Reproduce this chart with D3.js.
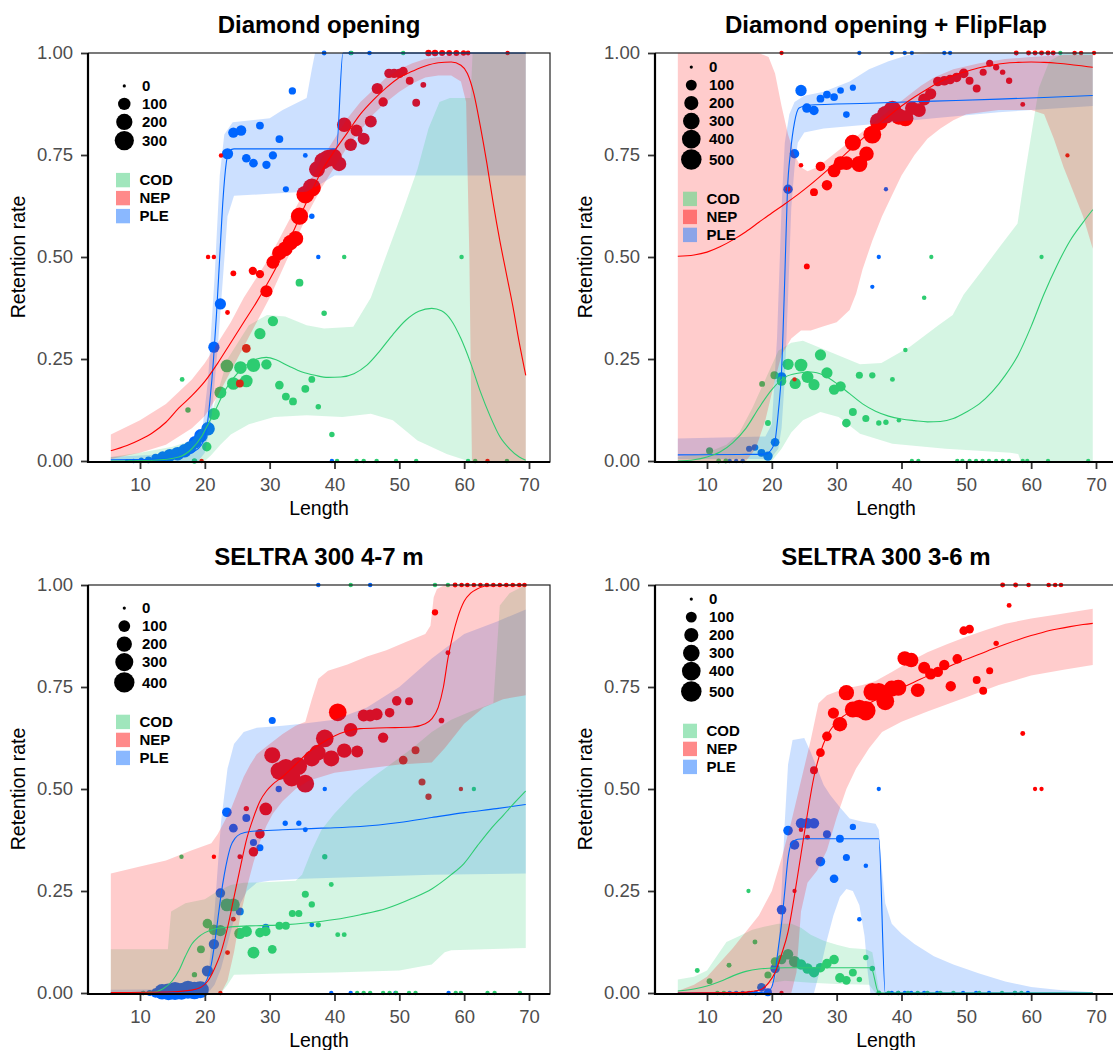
<!DOCTYPE html>
<html>
<head>
<meta charset="utf-8">
<script src="https://cdnjs.cloudflare.com/ajax/libs/d3/7.8.5/d3.min.js"></script>
<style>
	body { margin: 0; background: #fff; }
	svg text { font-family: "Liberation Sans", Arial, sans-serif; }
	.graphtitle { font-size: 24px; font-weight: bold; fill: #000; }
	.axistitle { font-size: 19.5px; fill: #000; }
	.axis .tick text { font-size: 18.5px; fill: #4d4d4d; }
	.axis .tick line { stroke: #333; stroke-width: 1.8px; }
	.axis .domain { display: none; }
	.legtext { font-size: 15px; font-weight: bold; fill: #000; }
</style>
</head>
<body>
<svg class="chart"></svg>
<script>

/* ---------- data ---------- */

var panelTitles = ["Diamond opening", "Diamond opening + FlipFlap", "SELTRA 300 4-7 m", "SELTRA 300 3-6 m"];
var species = ["COD", "NEP", "PLE"];
var xTicks = [10, 20, 30, 40, 50, 60, 70];
var yTicks = [0, 0.25, 0.5, 0.75, 1];

// size legend breaks (number of fish)
var diaBreaks = [0, 100, 200, 300];
var ffBreaks = [0, 100, 200, 300, 400, 500];
var s47Breaks = [0, 100, 200, 300, 400];
var s36Breaks = [0, 100, 200, 300, 400, 500];

// points: [length, retention, n]
// ---- Diamond opening
var diaPlePts = [[8,0,1],[9,0,2],[10.2,0.002,5],[11.3,0.003,15],[12.4,0.007,35],[13.5,0.01,75],[14.6,0.014,105],[15.8,0.018,125],[16.9,0.025,125],[17.7,0.033,105],[18.5,0.046,105],[19.4,0.062,125],[20.5,0.079,125],[21.4,0.279,75],[22.4,0.385,75],[23.5,0.753,75],[24.4,0.805,60],[25.6,0.81,60],[26.4,0.742,35],[27.5,0.73,35],[28.5,0.822,25],[29.5,0.726,30],[30.5,0.749,30],[31.5,0.789,25],[32.5,0.666,10],[33.5,0.907,20],[35.5,0.749,3],[36.5,0.6,6],[37.5,0.5,2],[38.4,1,3],[39.6,0,2],[42.5,1,2],[45.4,1,2]];
var diaNepPts = [[19.5,0,2],[20.5,0.5,2],[21.4,0.5,2],[22.5,0.749,2],[23.5,0.364,3],[24.4,0.46,8],[25.4,0.19,25],[26.4,0.276,35],[27.4,0.466,30],[28.5,0.458,30],[29.5,0.416,95],[30.5,0.487,110],[31.5,0.51,150],[32.4,0.52,160],[33.2,0.535,170],[34,0.545,170],[34.6,0.6,230],[35.5,0.653,250],[36.5,0.67,260],[37.3,0.715,190],[38.2,0.735,220],[39,0.742,230],[39.8,0.745,230],[40.7,0.728,150],[41.5,0.824,150],[42.5,0.775,100],[43.4,0.81,90],[44.5,0.79,90],[45.6,0.832,90],[46.6,0.913,75],[47.5,0.88,45],[48.4,0.95,45],[49.2,0.95,45],[50,0.95,45],[50.6,0.955,40],[51.6,0.932,25],[52.6,0.878,25],[53.7,0.922,8],[54.5,1,12],[55.5,1,12],[56.6,1,10],[57.7,1,8],[58.8,1,8],[59.9,1,5],[60.6,1,3],[63.6,0,2],[66.7,1,2]];
var diaCodPts = [[8.5,0,1],[9.5,0,1],[10.8,0,1],[16.5,0.2,3],[17.4,0.125,6],[18.4,0,6],[20.3,0.035,45],[21.4,0.115,90],[22.4,0.168,90],[23.4,0.233,105],[24.4,0.19,105],[25.5,0.229,105],[26.4,0.196,105],[27.5,0.235,125],[28.5,0.312,75],[29.5,0.237,60],[30.5,0.343,60],[31.5,0.186,35],[32.5,0.158,25],[33.6,0.146,25],[34.6,0.437,25],[35.5,0.177,25],[36.5,0.2,15],[37.5,0.133,6],[38.4,0.362,6],[39.6,0.065,6],[40.4,0,2],[41.5,0.5,2],[42.6,1,2],[43.4,0,2],[44.5,0,2],[46.5,0,2],[49.5,0,2],[50.6,1,2],[52.6,0,2],[59.6,0.5,2],[60.6,0,2],[61.7,0,2],[66.6,0,2]];

// ---- Diamond opening + FlipFlap
var ffPlePts = [[13.5,0,2],[14.5,0,2],[15.5,0,3],[16.5,0.03,15],[17.4,0.033,20],[18.4,0.02,35],[19.4,0.012,65],[20.5,0.046,50],[21.5,0.206,65],[22.5,0.666,65],[23.5,0.753,65],[24.5,0.908,110],[25.4,0.865,65],[26.5,0.859,65],[27.5,0.888,35],[28.5,0.898,35],[29.6,0.892,35],[30.6,0.908,20],[31.5,0.849,20],[32.5,0.915,15],[33.5,1,2],[35.5,0.427,2],[36.5,0.5,2],[37.6,0.666,2],[38.5,1,2],[40.5,1,2],[41.6,1,2],[46.6,1,2],[47.5,1,2]];
var ffNepPts = [[21.5,1,2],[22.5,0.666,5],[23.5,0.2,2],[24.5,0.725,3],[25.4,0.477,12],[26.5,0.659,37],[27.5,0.722,68],[28.5,0.676,86],[29.6,0.711,155],[30.6,0.73,183],[31.5,0.73,183],[32.5,0.78,278],[33.5,0.728,278],[34.6,0.753,213],[35.5,0.8,354],[36.5,0.832,354],[37.6,0.849,354],[38.6,0.861,354],[39.6,0.844,278],[40.6,0.84,278],[41.6,0.865,183],[42.7,0.86,183],[43.5,0.886,130],[44.5,0.9,107],[45.6,0.93,68],[46.6,0.932,68],[47.5,0.935,68],[48.5,0.94,68],[49.6,0.95,68],[50.5,0.932,37],[51.6,0.913,37],[52.6,0.953,25],[53.6,0.975,25],[54.6,0.965,16],[55.6,0.953,8],[56.6,0.932,16],[57.7,1,5],[58.7,0.874,5],[59.6,1,5],[60.6,1,5],[61.6,1,5],[62.6,1,5],[63.4,1,5],[65.6,0.749,2],[66.7,1,3],[67.7,1,3],[69.7,1,2]];
var ffCodPts = [[10.4,0.025,25],[11.8,0,5],[12.9,0,5],[18.5,0.189,12],[19.4,0.093,12],[20.4,0.21,37],[21.5,0.196,68],[22.5,0.237,107],[23.6,0.19,107],[24.5,0.235,155],[25.5,0.206,130],[26.5,0.187,107],[27.5,0.26,107],[28.5,0.216,107],[29.6,0.175,86],[30.6,0.183,86],[31.5,0.093,50],[32.5,0.12,37],[33.5,0.21,25],[34.5,0.104,25],[35.5,0.21,16],[36.5,0.093,8],[37.6,0.095,8],[38.6,0.2,5],[39.6,0.1,3],[40.6,0.272,3],[41.6,0,2],[42.6,0,2],[43.5,0.4,3],[44.6,0.5,2],[48.6,0,2],[49.4,0,2],[50.5,0,2],[51.5,0,2],[52.5,0,2],[53.5,0,2],[54.6,0,2],[55.6,0,2],[56.6,0,2],[58.7,0,2],[59.4,0,2],[61.6,0.5,2],[62.6,0,2],[64.5,1,2],[68.8,0,2]];

// ---- SELTRA 300 4-7 m
var s47PlePts = [[10.5,0,2],[11.5,0,10],[12.4,0,50],[13.4,0.003,200],[14.4,0.003,250],[15.4,0.005,300],[16.4,0.004,250],[17.4,0.008,300],[18.4,0.006,280],[19.3,0.008,260],[20.4,0.054,86],[21.4,0.12,69],[22.4,0.245,55],[23.4,0.443,55],[24.4,0.404,42],[25.4,0.2,30],[26.4,0.429,30],[27.5,0.369,20],[28.5,0.356,20],[29.4,0.161,20],[30.4,0.668,20],[31.4,0.5,13],[32.4,0.416,6],[34.5,0.416,6],[35.5,0.4,4],[36.5,0.167,4],[37.5,1,2],[38.5,0.5,2],[39.5,0,2],[42.5,0,2],[45.5,1,2],[49.4,0,2],[57.6,0,2]];
var s47NepPts = [[21.4,0.334,2],[22.4,0,2],[23.5,0.099,4],[24.4,0.181,4],[25.4,0.334,4],[26.4,0.452,6],[27.5,0.346,55],[28.5,0.39,55],[29.4,0.451,124],[30.4,0.583,223],[31.5,0.544,284],[32.5,0.552,284],[33.4,0.528,284],[34.4,0.556,284],[35.5,0.513,284],[36.5,0.575,223],[37.4,0.589,223],[38.5,0.624,284],[39.5,0.575,223],[40.5,0.688,284],[41.5,0.594,171],[42.5,0.645,147],[43.5,0.592,104],[44.5,0.68,104],[45.5,0.68,104],[46.5,0.683,104],[47.5,0.626,69],[48.5,0.687,55],[49.6,0.716,55],[50.6,0.571,42],[51.5,0.715,30],[52.5,0.595,30],[53.5,0.517,20],[54.5,0.481,13],[55.5,0.933,13],[56.5,0.668,8],[57.5,0.834,4],[58.6,1,4],[59.5,0.5,2],[59.6,1,3],[60.5,1,3],[61.5,1,3],[62.5,1,3],[63.5,1,3],[64.5,1,3],[65.5,1,3],[66.5,1,3],[67.5,1,3],[68.5,1,3],[69.3,1,3]];
var s47CodPts = [[10.5,0,2],[11.5,0,2],[16.4,0.334,2],[18.4,0.045,6],[19.4,0.107,30],[20.4,0.17,55],[21.4,0.155,69],[22.4,0.153,86],[23.4,0.216,124],[24.4,0.216,124],[25.4,0.146,86],[26.4,0.151,86],[27.5,0.099,104],[28.5,0.148,55],[29.4,0.151,55],[30.4,0.107,42],[31.5,0.165,30],[32.5,0.165,30],[33.5,0.195,20],[34.5,0.195,20],[35.5,0.242,20],[36.5,0.217,13],[37.5,0.167,6],[38.5,0.334,6],[39.5,0.266,4],[40.5,0.143,4],[41.5,0.143,4],[42.5,1,2],[43.5,0,2],[44.5,0,2],[45.5,0,2],[47.5,0,2],[48.5,0,2],[49.5,0,2],[51.5,0,2],[52.5,0,2],[55.5,1,2],[57.5,1,2],[58.7,0,2],[59.5,0,2],[61.5,0.5,2],[63.6,0,2],[64.7,0,2],[68.6,0,2]];

// ---- SELTRA 300 3-6 m
var s36PlePts = [[13.5,0,3],[14.5,0,3],[15.5,0,3],[16.5,0,3],[17.5,0,5],[18.4,0.014,50],[19.4,0.002,37],[20.5,0.06,68],[21.5,0.204,68],[22.5,0.398,68],[23.5,0.363,68],[24.5,0.416,86],[25.5,0.416,86],[26.5,0.416,86],[27.5,0.322,68],[28.5,0.389,37],[29.6,0.28,50],[30.5,0.378,37],[31.5,0.332,25],[32.5,0.407,16],[33.5,0.181,3],[34.5,0.312,3],[36.5,0.5,2],[38.5,0,2],[39.5,0,2],[40.5,0,2],[41.5,0,2],[43.5,0,2],[45.5,0,2],[49.5,0,2],[51.5,0,2],[53.5,0,2],[57.5,0,2],[59.5,0,2]];
var s36NepPts = [[21.5,0,2],[23.5,0.25,2],[24.5,0.4,3],[25.5,0.382,5],[26.5,0.546,37],[27.5,0.589,50],[28.5,0.629,68],[29.5,0.686,107],[30.5,0.659,213],[31.5,0.736,245],[32.5,0.695,278],[33.5,0.697,354],[34.5,0.692,440],[35.5,0.738,354],[36.5,0.738,354],[37.5,0.715,354],[38.5,0.746,278],[39.5,0.748,278],[40.5,0.82,213],[41.5,0.816,213],[42.5,0.742,183],[43.5,0.797,130],[44.5,0.782,107],[45.6,0.787,86],[46.6,0.804,86],[47.6,0.752,86],[48.6,0.819,68],[49.6,0.888,50],[50.5,0.892,50],[51.6,0.767,37],[52.6,0.741,37],[53.6,0.79,25],[54.6,0.857,8],[55.6,1,5],[56.6,0.95,5],[57.6,1,5],[58.7,0.636,5],[59.6,1,3],[60.6,0.5,2],[61.6,0.5,2],[62.7,1,3],[63.7,1,3],[64.6,1,3]];
var s36CodPts = [[8.5,0.055,5],[10.4,0.029,12],[11.6,0,3],[12.6,0,3],[13.4,0.068,5],[16.4,0.25,2],[17.4,0.125,5],[19.4,0.044,25],[20.5,0.077,50],[21.5,0.082,68],[22.5,0.095,86],[23.5,0.077,107],[24.5,0.07,86],[25.5,0.06,86],[26.5,0.051,86],[27.5,0.062,68],[28.5,0.072,68],[29.6,0.082,68],[30.5,0.037,68],[31.5,0.031,50],[32.5,0.05,37],[33.5,0.033,8],[34.5,0.087,8],[35.5,0.06,8],[36.5,0,5],[38,0,3],[39.5,0,3],[41,0,3],[42.5,0,3],[44,0,3],[46,0,3],[48,0,3],[52,0,2],[55.5,0,2],[57.5,0,2],[58.5,0,2]];

// fitted curves: [length, retention]
var diaPleFit = [[5.5,0.003],[12,0.004],[16,0.008],[18,0.02],[19.5,0.04],[20.3,0.08],[20.8,0.15],[21.3,0.24],[21.8,0.36],[22.3,0.5],[22.8,0.64],[23.3,0.73],[23.8,0.76],[24.5,0.765],[40.3,0.765],[41.3,1],[69.5,1]];
var diaNepFit = [[5.5,0.025],[8,0.038],[10,0.052],[12,0.07],[14,0.095],[16,0.13],[18,0.16],[20,0.195],[22,0.24],[24,0.29],[26,0.34],[28,0.39],[30,0.445],[32,0.505],[34,0.575],[36,0.645],[38,0.71],[40,0.76],[42,0.805],[44,0.85],[46,0.885],[48,0.915],[50,0.94],[52,0.955],[54,0.968],[56,0.976],[58,0.978],[59.5,0.97],[60.5,0.95],[61.5,0.9],[62.5,0.82],[63.5,0.73],[64.5,0.63],[65.5,0.54],[66.5,0.46],[67.5,0.38],[68.5,0.29],[69.5,0.21]];
var diaCodFit = [[5.5,0],[12,0.002],[16,0.01],[18,0.03],[19.5,0.06],[20.5,0.09],[21.5,0.12],[23,0.17],[24.5,0.205],[26,0.23],[28,0.25],[29.5,0.254],[31,0.248],[33,0.232],[35,0.218],[37,0.21],[39,0.205],[41,0.206],[43,0.214],[45,0.235],[47,0.27],[49,0.31],[51,0.345],[53,0.367],[55,0.374],[56.5,0.368],[58,0.345],[59.5,0.3],[61,0.24],[62.5,0.17],[64,0.11],[65.5,0.06],[67,0.03],[68.5,0.01],[69.5,0.002]];

var ffPleFit = [[5.5,0.015],[15,0.016],[19,0.017],[20,0.03],[20.5,0.05],[21,0.12],[21.5,0.22],[22,0.45],[22.4,0.66],[22.9,0.76],[23.5,0.83],[24.2,0.865],[25.5,0.872],[35,0.877],[45,0.882],[55,0.887],[62,0.891],[69.5,0.896]];
var ffNepFit = [[5.5,0.502],[8,0.505],[10,0.512],[12,0.525],[14,0.542],[16,0.562],[18,0.585],[20,0.608],[22,0.63],[24,0.653],[26,0.678],[28,0.705],[30,0.733],[32,0.762],[34,0.79],[36,0.82],[38,0.845],[40,0.87],[42,0.892],[44,0.912],[46,0.93],[48,0.945],[50,0.955],[52,0.964],[54,0.97],[56,0.975],[58,0.977],[60,0.978],[62,0.977],[64,0.975],[66,0.972],[68,0.968],[69.5,0.965]];
var ffCodFit = [[5.5,0],[8,0.003],[10,0.01],[12,0.022],[14,0.045],[16,0.08],[18,0.13],[20,0.175],[22,0.205],[24,0.215],[26,0.218],[28,0.21],[30,0.19],[32,0.165],[34,0.14],[36,0.122],[38,0.11],[40,0.103],[42,0.099],[44,0.096],[46,0.097],[48,0.104],[50,0.12],[52,0.14],[54,0.17],[56,0.21],[58,0.26],[60,0.33],[62,0.41],[64,0.48],[66,0.54],[68,0.585],[69.5,0.616]];

var s47PleFit = [[5.5,0.001],[15,0.002],[18,0.005],[19.5,0.015],[20.5,0.04],[21,0.07],[21.5,0.12],[22,0.18],[22.5,0.24],[23,0.29],[23.5,0.33],[24,0.36],[24.7,0.38],[25.5,0.39],[27,0.396],[32,0.4],[38,0.404],[44,0.408],[50,0.418],[55,0.43],[60,0.442],[65,0.452],[69.5,0.462]];
var s47NepFit = [[5.5,0.001],[15,0.003],[18,0.007],[19.5,0.015],[20.5,0.03],[21.5,0.06],[22.5,0.1],[23.5,0.16],[24.5,0.235],[25.5,0.31],[26.5,0.38],[27.5,0.43],[28.5,0.47],[29.5,0.495],[30.5,0.512],[32,0.53],[34,0.56],[36,0.59],[38,0.612],[40,0.63],[42,0.642],[44,0.648],[48,0.65],[52,0.652],[54,0.66],[55,0.672],[56,0.7],[56.8,0.75],[57.5,0.82],[58.3,0.88],[59,0.92],[60,0.96],[61,0.98],[62,0.99],[63.5,0.998],[69.5,1]];
var s47CodFit = [[5.5,0],[12,0.002],[13.5,0.01],[15,0.03],[16,0.055],[17,0.09],[18,0.12],[19,0.137],[20,0.148],[21.5,0.157],[24,0.162],[28,0.165],[32,0.167],[36,0.172],[40,0.18],[44,0.192],[48,0.207],[52,0.232],[55,0.255],[58,0.29],[60,0.318],[62,0.36],[64,0.4],[66,0.435],[68,0.47],[69.5,0.495]];

var s36PleFit = [[5.5,0],[18,0.001],[19.5,0.005],[20,0.015],[20.5,0.05],[21,0.11],[21.5,0.17],[22,0.25],[22.5,0.33],[23,0.365],[24,0.377],[25,0.378],[36.5,0.378],[37.5,0],[69.5,0]];
var s36NepFit = [[5.5,0],[15,0.001],[17,0.004],[18.5,0.01],[19.5,0.025],[20.5,0.05],[21.5,0.095],[22.5,0.15],[23.5,0.24],[24.5,0.34],[25.5,0.44],[26.5,0.53],[27.5,0.59],[28.5,0.63],[29.5,0.655],[30.5,0.672],[32,0.688],[34,0.703],[36,0.718],[38,0.733],[40,0.748],[42,0.762],[44,0.777],[46,0.79],[48,0.805],[50,0.818],[52,0.83],[54,0.843],[56,0.855],[58,0.866],[60,0.876],[62,0.885],[64,0.892],[66,0.898],[68,0.903],[69.5,0.906]];
var s36CodFit = [[5.5,0.005],[8,0.01],[10,0.017],[12,0.028],[14,0.042],[16,0.053],[18,0.059],[20,0.061],[22,0.062],[26,0.062],[30,0.062],[35.3,0.062],[36.5,0],[69.5,0]];

// confidence bands: lower and upper edges, [length, retention]
var diaPleLo = [[5.5,0],[19,0],[20,0.02],[21,0.1],[22,0.28],[22.8,0.45],[23.5,0.6],[24.5,0.65],[30,0.655],[35.7,0.66],[38,0.68],[40,0.7],[69.5,0.7]];
var diaPleHi = [[5.5,0.01],[18,0.02],[19.5,0.06],[20.5,0.2],[21.5,0.45],[22.3,0.7],[23,0.8],[24.3,0.83],[30,0.84],[32,0.86],[35.7,0.89],[36.5,0.96],[37,1],[69.5,1]];
var diaNepLo = [[5.5,0.005],[10,0.02],[14,0.04],[18,0.08],[20,0.11],[22,0.16],[24,0.22],[26,0.28],[28,0.34],[30,0.4],[32,0.47],[34,0.54],[36,0.61],[38,0.67],[40,0.72],[42,0.77],[44,0.81],[46,0.85],[48,0.88],[50,0.905],[52,0.925],[54,0.94],[56,0.945],[58,0.945],[59.5,0.93],[60.3,0.88],[60.8,0.5],[61.2,0],[69.5,0]];
var diaNepHi = [[5.5,0.065],[10,0.1],[14,0.14],[18,0.2],[20,0.24],[22,0.29],[24,0.34],[26,0.4],[28,0.45],[30,0.5],[32,0.56],[34,0.62],[36,0.68],[38,0.74],[40,0.79],[42,0.84],[44,0.88],[46,0.91],[48,0.94],[50,0.96],[52,0.975],[54,0.985],[56,0.99],[58,0.995],[60,1],[69.5,1]];
var diaCodLo = [[5.5,0],[20,0],[21,0.015],[22.4,0.04],[24,0.065],[26.8,0.09],[30.7,0.108],[35.7,0.112],[41.2,0.108],[45.6,0.116],[49,0.1],[52.8,0.05],[57.3,0.017],[60.6,0],[69.5,0]];
var diaCodHi = [[5.5,0.01],[10,0.02],[15,0.035],[18,0.05],[19.5,0.08],[21.3,0.13],[23.5,0.25],[26.8,0.333],[29.6,0.358],[32.4,0.354],[35.7,0.333],[38.4,0.325],[42.9,0.329],[45.6,0.4],[47.9,0.5],[50.6,0.616],[52.8,0.715],[54.5,0.815],[56.2,0.88],[57.8,0.89],[61,0.89],[61.3,1],[69.5,1]];

var ffPleLo = [[5.5,0.005],[19,0.005],[20,0.01],[21,0.03],[21.5,0.08],[22,0.2],[22.5,0.4],[23,0.62],[23.5,0.72],[24,0.78],[25,0.805],[28,0.815],[35,0.825],[45,0.84],[55,0.855],[69.5,0.87]];
var ffPleHi = [[5.5,0.055],[19,0.06],[20,0.09],[20.8,0.3],[21.5,0.62],[22,0.78],[22.7,0.85],[23.5,0.88],[25,0.895],[28,0.905],[32,0.93],[35,0.96],[38,0.98],[41,0.995],[45,1],[69.5,1]];
var ffNepLo = [[5.5,0],[16,0],[17.5,0.03],[19,0.1],[20.5,0.2],[21.5,0.26],[23,0.3],[24.5,0.32],[26,0.32],[28,0.33],[30,0.34],[32,0.37],[33,0.41],[34,0.47],[35.5,0.54],[37,0.6],[38.5,0.65],[40,0.7],[42,0.75],[44,0.79],[46,0.815],[48,0.835],[50,0.85],[55,0.86],[60,0.86],[62,0.85],[63.5,0.79],[65,0.72],[66.5,0.66],[68,0.6],[69.5,0.52]];
var ffNepHi = [[5.5,1],[18,1],[19.5,0.99],[20.5,0.95],[21.5,0.87],[22.5,0.8],[23.5,0.75],[24.5,0.72],[25.5,0.71],[27,0.72],[29,0.745],[31,0.77],[33,0.795],[35,0.82],[37,0.845],[39,0.87],[41,0.895],[43,0.92],[45,0.94],[48,0.96],[52,0.975],[56,0.985],[60,0.99],[65,0.995],[69.5,0.995]];
var ffCodLo = [[5.5,0],[20,0],[21.5,0.03],[23,0.07],[24.8,0.1],[27.5,0.12],[30.3,0.108],[33.6,0.067],[38.6,0.042],[46.8,0.03],[56.8,0.02],[58,0.017],[58.4,0],[69.5,0]];
var ffCodHi = [[5.5,0.01],[10,0.02],[13,0.04],[15,0.07],[17,0.13],[19,0.2],[21,0.27],[23,0.29],[24.8,0.295],[29.2,0.266],[33.6,0.237],[36.9,0.24],[41.3,0.28],[45.7,0.333],[47.9,0.358],[49.6,0.408],[52.4,0.466],[55.1,0.524],[57.9,0.582],[59,0.7],[61.2,0.915],[62.8,0.98],[64.5,0.995],[65.5,1],[69.5,1]];

var s47PleLo = [[5.5,0],[20.5,0],[21.5,0.02],[22.5,0.06],[23.5,0.12],[24.5,0.18],[25.5,0.22],[26.5,0.25],[28,0.27],[30,0.275],[35,0.28],[45,0.285],[55,0.29],[69.5,0.293]];
var s47PleHi = [[5.5,0.008],[19.5,0.01],[20.5,0.04],[21.5,0.2],[22.5,0.42],[23.5,0.55],[24.5,0.61],[26,0.64],[28,0.65],[32,0.655],[35,0.66],[40,0.67],[45,0.7],[50,0.75],[55,0.82],[60,0.88],[65,0.91],[69.5,0.94]];
var s47NepLo = [[5.5,0],[22.5,0],[23.5,0.03],[24.5,0.1],[25.5,0.19],[26.5,0.26],[27.5,0.32],[28.5,0.37],[29.5,0.41],[30.5,0.44],[32,0.47],[34,0.5],[36,0.52],[40,0.54],[45,0.55],[50,0.56],[55,0.565],[57,0.6],[60,0.66],[63,0.7],[66,0.72],[69.5,0.73]];
var s47NepHi = [[5.5,0.293],[10,0.31],[14,0.325],[18,0.35],[21,0.367],[22,0.39],[23,0.42],[24,0.45],[25,0.49],[26,0.53],[27,0.56],[28,0.585],[30,0.61],[32,0.635],[34,0.655],[35.5,0.665],[36.5,0.72],[37.5,0.77],[39,0.79],[42,0.805],[45,0.825],[48,0.84],[51,0.86],[54,0.88],[54.8,0.9],[55.3,0.97],[55.8,0.99],[57,1],[69.5,1]];
var s47CodLo = [[5.5,0],[22.5,0],[23.5,0.02],[24.5,0.045],[30,0.047],[40,0.05],[50,0.055],[55,0.07],[57,0.1],[58,0.105],[69.5,0.11]];
var s47CodHi = [[5.5,0.107],[14.3,0.107],[14.8,0.2],[17,0.22],[20,0.23],[22,0.25],[24,0.265],[26,0.27],[30,0.272],[34,0.275],[35,0.29],[36.5,0.35],[38,0.4],[40,0.44],[43,0.49],[46,0.53],[49,0.565],[52,0.6],[55,0.64],[58,0.67],[61,0.69],[64.5,0.71],[65.5,0.95],[67,0.98],[69.5,1]];

var s36PleLo = [[5.5,0],[26.5,0],[27.5,0.06],[28.5,0.13],[29.5,0.19],[30.5,0.235],[31.5,0.255],[32.5,0.25],[33.5,0.215],[34.3,0.14],[34.8,0.05],[35.2,0],[69.5,0]];
var s36PleHi = [[5.5,0.002],[19,0.004],[20,0.01],[20.8,0.05],[21.5,0.25],[22,0.42],[22.5,0.56],[23.2,0.62],[25,0.625],[26,0.59],[27,0.55],[28,0.51],[29,0.485],[30.5,0.455],[32,0.428],[34,0.42],[36,0.415],[36.5,0.4],[37,0.3],[37.5,0.22],[38.5,0.17],[40,0.145],[42,0.12],[45,0.09],[48,0.07],[52,0.048],[56,0.028],[60,0.015],[64,0.008],[69.5,0.002]];
var s36NepLo = [[5.5,0],[23,0],[23.8,0.05],[24.5,0.2],[25.5,0.27],[27,0.3],[28.5,0.35],[30,0.43],[31.5,0.5],[33,0.55],[35,0.6],[37,0.64],[40,0.665],[44,0.69],[50,0.725],[55,0.755],[60,0.778],[65,0.792],[69.5,0.804]];
var s36NepHi = [[5.5,0.005],[8,0.02],[10,0.04],[12,0.075],[14,0.11],[16,0.15],[18,0.19],[20,0.25],[21.5,0.33],[23,0.42],[24.5,0.52],[26,0.62],[27.2,0.71],[28.5,0.73],[31,0.745],[34,0.755],[36,0.765],[38.5,0.787],[41,0.81],[44,0.835],[47,0.855],[50,0.873],[53,0.89],[56,0.905],[60,0.918],[64,0.928],[69.5,0.942]];
var s36CodLo = [[5.5,0],[15,0],[18,0.01],[20,0.025],[22,0.03],[26,0.025],[30,0.022],[35,0.02],[36,0],[69.5,0]];
var s36CodHi = [[5.5,0.033],[8,0.04],[10,0.055],[11.5,0.09],[13,0.125],[15,0.14],[17,0.155],[19,0.163],[21,0.17],[23,0.17],[24.5,0.16],[26,0.143],[28,0.128],[30,0.118],[32,0.11],[34.5,0.107],[35.5,0.1],[36.5,0.01],[37,0],[69.5,0]];


/* ---------- panel table built from the arrays ---------- */
var panels = [
	{title: panelTitles[0], breaks: diaBreaks, nmax: 380,
	 pts: {COD: diaCodPts, NEP: diaNepPts, PLE: diaPlePts},
	 fit: {COD: diaCodFit, NEP: diaNepFit, PLE: diaPleFit},
	 lo: {COD: diaCodLo, NEP: diaNepLo, PLE: diaPleLo},
	 hi: {COD: diaCodHi, NEP: diaNepHi, PLE: diaPleHi}},
	{title: panelTitles[1], breaks: ffBreaks, nmax: 540,
	 pts: {COD: ffCodPts, NEP: ffNepPts, PLE: ffPlePts},
	 fit: {COD: ffCodFit, NEP: ffNepFit, PLE: ffPleFit},
	 lo: {COD: ffCodLo, NEP: ffNepLo, PLE: ffPleLo},
	 hi: {COD: ffCodHi, NEP: ffNepHi, PLE: ffPleHi}},
	{title: panelTitles[2], breaks: s47Breaks, nmax: 440,
	 pts: {COD: s47CodPts, NEP: s47NepPts, PLE: s47PlePts},
	 fit: {COD: s47CodFit, NEP: s47NepFit, PLE: s47PleFit},
	 lo: {COD: s47CodLo, NEP: s47NepLo, PLE: s47PleLo},
	 hi: {COD: s47CodHi, NEP: s47NepHi, PLE: s47PleHi}},
	{title: panelTitles[3], breaks: s36Breaks, nmax: 540,
	 pts: {COD: s36CodPts, NEP: s36NepPts, PLE: s36PlePts},
	 fit: {COD: s36CodFit, NEP: s36NepFit, PLE: s36PleFit},
	 lo: {COD: s36CodLo, NEP: s36NepLo, PLE: s36PleLo},
	 hi: {COD: s36CodHi, NEP: s36NepHi, PLE: s36PleHi}}
];


/* ---------- layout and style ---------- */
var totalWidth = 1113, totalHeight = 1050;
var plotW = 462, plotH = 408;
var origins = [[88, 53], [655, 53], [88, 585], [655, 585]];
var colors = {COD: "#2ecc71", NEP: "#ff0000", PLE: "#0066ff"};
var keyFills = [
	{COD: "#a0e6bc", NEP: "#ff8a8a", PLE: "#8ab8ff"},
	{COD: "#9dd4a3", NEP: "#ff7272", PLE: "#8ca4e8"},
	{COD: "#a0e6bc", NEP: "#ff8a8a", PLE: "#8ab8ff"},
	{COD: "#a0e6bc", NEP: "#ff8a8a", PLE: "#8ab8ff"}
];
var drawOrder = ["PLE", "COD", "NEP"];

var svg = d3.select(".chart")
	.attr("width", totalWidth)
	.attr("height", totalHeight);

svg.append("rect")
	.attr("width", totalWidth)
	.attr("height", totalHeight)
	.attr("fill", "#fff");

panels.forEach(function(p, i) {
	drawPanel(p, origins[i], keyFills[i]);
});


// Draw one facet
function drawPanel(p, org, keys) {

	var chart = svg.append("g")
		.attr("transform", "translate(" + org[0] + "," + org[1] + ")");

	var x = d3.scaleLinear()
		.domain([1.98, 73.24])
		.range([0, plotW]);

	var y = d3.scaleLinear()
		.domain([0, 1])
		.range([plotH, 0]);

	var size = d3.scaleSqrt()
		.domain([0, p.nmax])
		.range([1.6, 10.6]);

	var valueline = d3.line()
		.x(function(d) { return x(d[0]); })
		.y(function(d) { return y(d[1]); })
		.curve(d3.curveMonotoneX);

	var edge = d3.line()
		.x(function(d) { return x(d[0]); })
		.y(function(d) { return y(d[1]); });

	// Dots (drawn first, bands sit over them)
	drawOrder.forEach(function(sp) {
		chart.selectAll(".dot-" + sp)
			.data(p.pts[sp])
		  .enter().append("circle")
			.attr("class", "dot-" + sp)
			.attr("cx", function(d) { return x(d[0]); })
			.attr("cy", function(d) { return y(d[1]); })
			.attr("r", function(d) { return size(d[2]); })
			.attr("fill", colors[sp]);
	});

	// Confidence bands
	drawOrder.forEach(function(sp) {
		var poly = p.hi[sp].concat(p.lo[sp].slice().reverse());
		chart.append("path")
			.datum(poly)
			.attr("d", function(d) { return edge(d) + "Z"; })
			.attr("fill", colors[sp])
			.attr("fill-opacity", 0.2)
			.attr("stroke", "none");
	});

	// Fitted curves
	drawOrder.forEach(function(sp) {
		chart.append("path")
			.datum(p.fit[sp])
			.attr("d", valueline)
			.attr("fill", "none")
			.attr("stroke", colors[sp])
			.attr("stroke-width", 1.1);
	});

	// Panel frame and axis lines
	chart.append("rect")
		.attr("x", 0).attr("y", 0)
		.attr("width", plotW).attr("height", plotH + 1)
		.attr("fill", "none")
		.attr("stroke", "#222")
		.attr("stroke-width", 1.2);
	chart.append("line")
		.attr("x1", 0).attr("x2", 0)
		.attr("y1", 0).attr("y2", plotH + 2)
		.attr("stroke", "#000").attr("stroke-width", 2.2);
	chart.append("line")
		.attr("x1", -1).attr("x2", plotW)
		.attr("y1", plotH + 1).attr("y2", plotH + 1)
		.attr("stroke", "#000").attr("stroke-width", 2.2);

	// Axes
	var xAxis = d3.axisBottom(x)
		.tickValues(xTicks)
		.tickSize(6)
		.tickPadding(9);

	var yAxis = d3.axisLeft(y)
		.tickValues(yTicks)
		.tickFormat(d3.format(".2f"))
		.tickSize(6)
		.tickPadding(8);

	chart.append("g")
		.attr("class", "x axis")
		.attr("transform", "translate(0," + (plotH + 2) + ")")
		.call(xAxis);

	chart.append("g")
		.attr("class", "y axis")
		.attr("transform", "translate(-1,0)")
		.call(yAxis);

	// Title
	chart.append("text")
		.attr("class", "graphtitle")
		.attr("x", plotW / 2)
		.attr("y", -28)
		.attr("dy", "0.35em")
		.attr("text-anchor", "middle")
		.text(p.title);

	// Axis titles
	chart.append("text")
		.attr("class", "axistitle")
		.attr("x", plotW / 2)
		.attr("y", plotH + 47)
		.attr("dy", "0.35em")
		.attr("text-anchor", "middle")
		.text("Length");

	chart.append("text")
		.attr("class", "axistitle")
		.attr("transform", "rotate(-90)")
		.attr("x", -plotH / 2)
		.attr("y", -70)
		.attr("dy", "0.35em")
		.attr("text-anchor", "middle")
		.text("Retention rate");

	// Legends (size then colour), centred on one height
	var nS = p.breaks.length;
	var lastExtra = nS >= 5 ? 2.3 : 0.7;
	var sizeY = p.breaks.map(function(b, i) {
		return i * 18 + (i == nS - 1 ? lastExtra : 0);
	});
	var colY0 = sizeY[nS - 1] + 39.5;
	var legTop = 98 - (colY0 + 36) / 2;

	var leg = chart.append("g")
		.attr("transform", "translate(0," + legTop + ")");

	leg.selectAll(".sizekey")
		.data(p.breaks)
	  .enter().append("circle")
		.attr("class", "sizekey")
		.attr("cx", 36.3)
		.attr("cy", function(d, i) { return sizeY[i]; })
		.attr("r", function(d) { return size(d); })
		.attr("fill", "#000");

	leg.selectAll(".sizelab")
		.data(p.breaks)
	  .enter().append("text")
		.attr("class", "legtext sizelab")
		.attr("x", 54)
		.attr("y", function(d, i) { return sizeY[i]; })
		.attr("dy", "0.35em")
		.text(function(d) { return d; });

	leg.selectAll(".colkey")
		.data(species)
	  .enter().append("rect")
		.attr("class", "colkey")
		.attr("x", 28)
		.attr("y", function(d, i) { return colY0 + i * 18 - 7.2; })
		.attr("width", 14)
		.attr("height", 14.4)
		.attr("fill", function(d) { return keys[d]; });

	leg.selectAll(".collab")
		.data(species)
	  .enter().append("text")
		.attr("class", "legtext collab")
		.attr("x", 51.5)
		.attr("y", function(d, i) { return colY0 + i * 18; })
		.attr("dy", "0.35em")
		.text(function(d) { return d; });
}

</script>
</body>
</html>
